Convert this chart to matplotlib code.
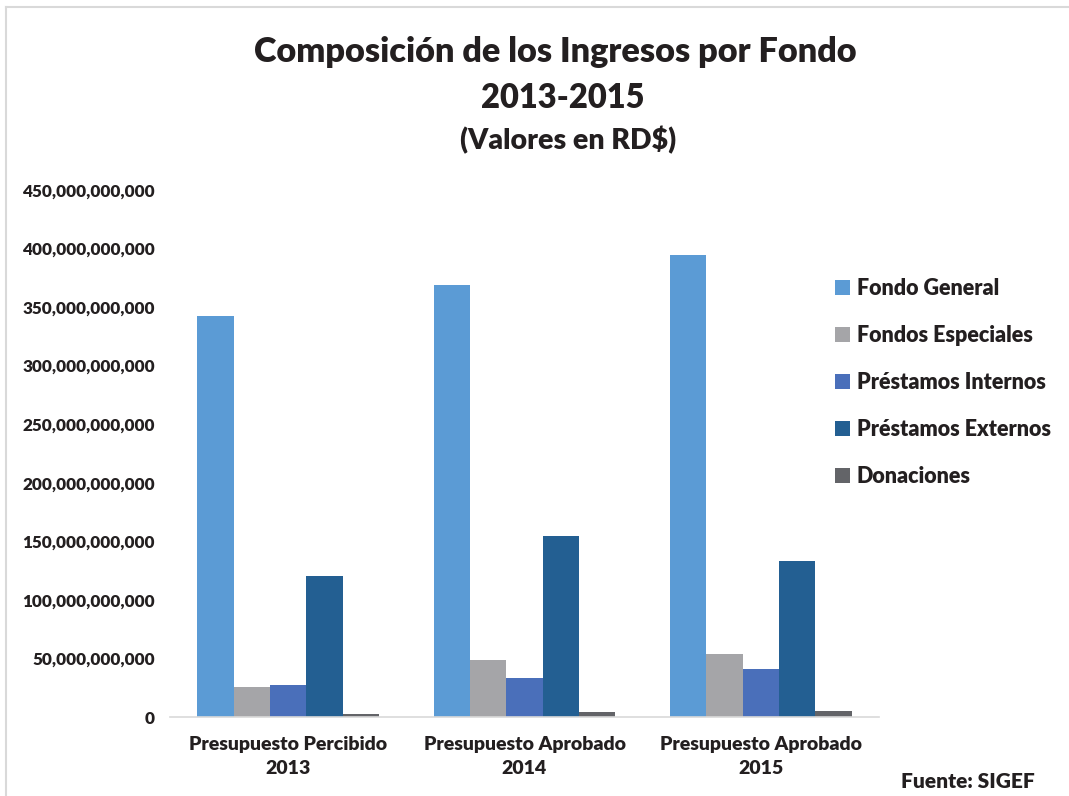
import matplotlib
matplotlib.use("Agg")
import matplotlib.pyplot as plt
import numpy as np
from matplotlib.lines import Line2D
from matplotlib.ticker import FuncFormatter, MultipleLocator

categories = ["Presupuesto Percibido\n2013", "Presupuesto Aprobado\n2014", "Presupuesto Aprobado\n2015"]
series_names = ["Fondo General", "Fondos Especiales", "Préstamos Internos", "Préstamos Externos", "Donaciones"]
fondo_general = [342.0e9, 369.0e9, 394.5e9]
fondos_especiales = [25.6e9, 48.7e9, 53.8e9]
prestamos_internos = [26.9e9, 33.3e9, 41.4e9]
prestamos_externos = [120.4e9, 154.5e9, 133.2e9]
donaciones = [2.6e9, 4.3e9, 4.9e9]
colors = ["#5B9BD5", "#A5A5A8", "#4A6FBA", "#235F92", "#636468"]

series = [fondo_general, fondos_especiales, prestamos_internos, prestamos_externos, donaciones]

plt.rcParams['font.family'] = ['Lato', 'DejaVu Sans']
W = "heavy"
txt = "#231f20"

fig = plt.figure(figsize=(10.69, 7.96), dpi=100)
ax = fig.add_axes([170/1069, 1-717/796, (879-170)/1069, (717-190)/796])

x = np.arange(len(categories))
bw = 0.768 / 5
for i, (vals, name, c) in enumerate(zip(series, series_names, colors)):
    ax.bar(x - 0.384 + bw*(i+0.5), vals, width=bw, color=c, label=name,
           edgecolor="none", linewidth=0)

ax.set_xlim(-0.5, 2.5)
ax.set_ylim(0, 450e9)
ax.yaxis.set_major_locator(MultipleLocator(50e9))
ax.yaxis.set_major_formatter(FuncFormatter(lambda v, p: f"{int(round(v)):,}"))
ax.set_xticks(x)
ax.set_xticklabels(categories, fontsize=14, fontweight=W, color=txt, linespacing=1.45)
for s in ["top", "right", "left"]:
    ax.spines[s].set_visible(False)
ax.spines["bottom"].set_color("#d9d9d9")
ax.spines["bottom"].set_linewidth(1.2)
ax.tick_params(axis="both", length=0)
ax.tick_params(axis="y", labelsize=12.3, pad=11)
ax.tick_params(axis="x", pad=14)
for t in ax.get_yticklabels():
    t.set_fontweight(W)
    t.set_color(txt)

fig.text(555/1069, 1-52/796, "Composición de los Ingresos por Fondo", ha="center", va="center",
         fontsize=24.7, fontweight=W, color=txt)
fig.text(563/1069, 1-98/796, "2013-2015", ha="center", va="center",
         fontsize=23.5, fontweight=W, color=txt)
fig.text(568/1069, 1-140/796, "(Valores en RD$)", ha="center", va="center",
         fontsize=20.5, fontweight=W, color=txt)

leg = fig.legend(loc="upper left", bbox_to_anchor=(816/1069, 1-259/796), frameon=False,
                 prop={"size": 15.5, "weight": W}, handlelength=0.7, handleheight=0.7,
                 handletextpad=0.3, labelspacing=1.2)
for t in leg.get_texts():
    t.set_color(txt)

fig.text(1035/1069, 1-781/796, "Fuente: SIGEF", ha="right", va="center",
         fontsize=15, fontweight=W, color=txt)

fig.add_artist(Line2D([6/1069, 6/1069], [0, 1-7/796], transform=fig.transFigure, color="#d9d9d9", lw=1.5))
fig.add_artist(Line2D([6/1069, 1], [1-7/796, 1-7/796], transform=fig.transFigure, color="#d9d9d9", lw=1.5))

fig.savefig("out.png", dpi=100, facecolor="white")
